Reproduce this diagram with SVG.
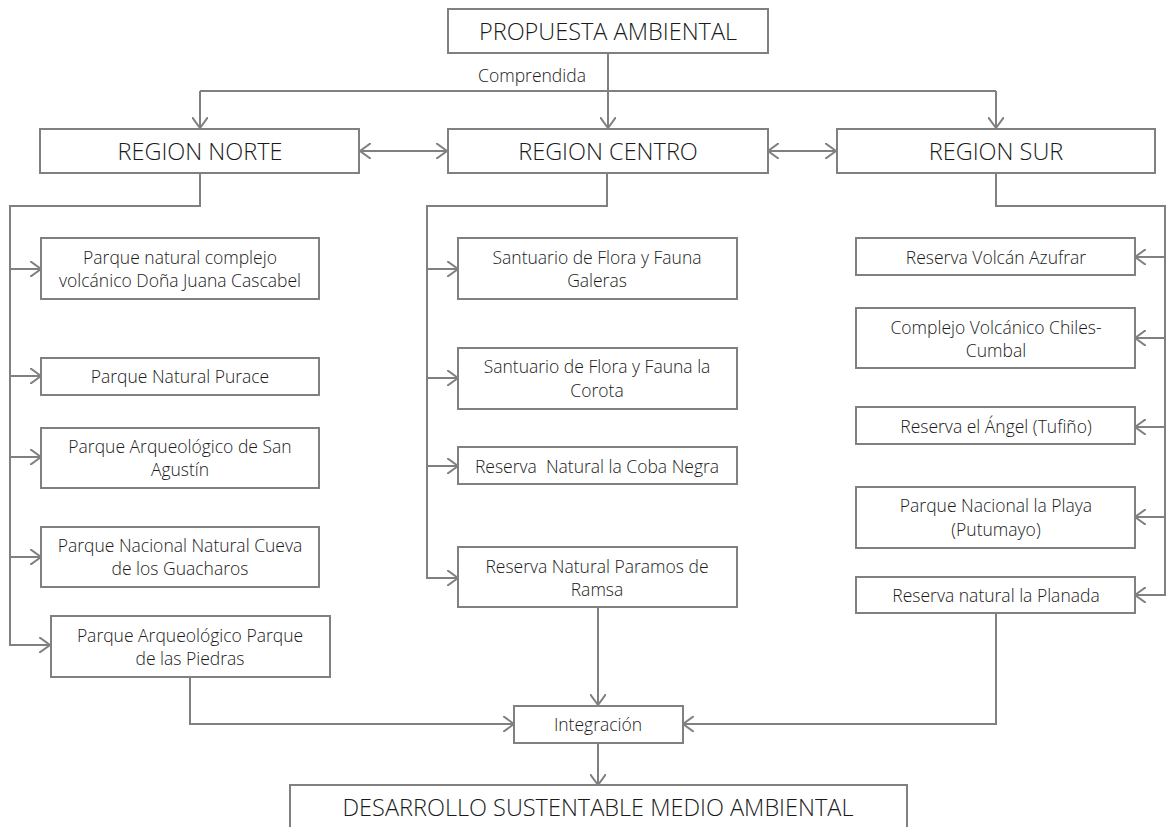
<svg xmlns="http://www.w3.org/2000/svg" width="1167" height="827" viewBox="0 0 1167 827">
<style>
.box{fill:#fff;stroke:#808080;stroke-width:2}
.c{fill:none;stroke:#808080;stroke-width:2}
text{font-family:"Open Sans",Lato,"Liberation Sans",sans-serif;font-weight:300;fill:#1a1a1a;text-anchor:middle;dominant-baseline:central}
.s{font-size:17.5px}
.l{font-size:23.5px}
</style>
<defs>
<marker id="a" markerUnits="userSpaceOnUse" viewBox="0 0 12 16" refX="11" refY="8" markerWidth="12" markerHeight="16" orient="auto-start-reverse">
<path d="M0,0 L11,8 L0,16" fill="none" stroke="#808080" stroke-width="2"/>
</marker>
</defs>
<rect width="1167" height="827" fill="#fff"/>
<g id="connectors">
<path class="c" d="M608,53 V128" marker-end="url(#a)"/>
<path class="c" d="M200,91 H996"/>
<path class="c" d="M200,91 V128" marker-end="url(#a)"/>
<path class="c" d="M996,91 V128" marker-end="url(#a)"/>
<path class="c" d="M360,151 H447" marker-start="url(#a)" marker-end="url(#a)"/>
<path class="c" d="M768,151 H836" marker-start="url(#a)" marker-end="url(#a)"/>
<path class="c" d="M200,173 V206 H10 V645 H50" marker-end="url(#a)"/>
<path class="c" d="M10,269 H41" marker-end="url(#a)"/>
<path class="c" d="M10,376 H41" marker-end="url(#a)"/>
<path class="c" d="M10,457 H41" marker-end="url(#a)"/>
<path class="c" d="M10,557 H41" marker-end="url(#a)"/>
<path class="c" d="M607,173 V206 H427 V578 H458" marker-end="url(#a)"/>
<path class="c" d="M427,269 H458" marker-end="url(#a)"/>
<path class="c" d="M427,378 H458" marker-end="url(#a)"/>
<path class="c" d="M427,466 H458" marker-end="url(#a)"/>
<path class="c" d="M996,173 V206 H1165 V595 H1135" marker-end="url(#a)"/>
<path class="c" d="M1165,257 H1135" marker-end="url(#a)"/>
<path class="c" d="M1165,338 H1135" marker-end="url(#a)"/>
<path class="c" d="M1165,427 H1135" marker-end="url(#a)"/>
<path class="c" d="M1165,517 H1135" marker-end="url(#a)"/>
<path class="c" d="M190,677 V724 H514" marker-end="url(#a)"/>
<path class="c" d="M598,607 V705" marker-end="url(#a)"/>
<path class="c" d="M996,613 V724 H683" marker-end="url(#a)"/>
<path class="c" d="M598,743 V785" marker-end="url(#a)"/>
</g>
<g id="propuesta"><rect class="box" x="448" y="9" width="320" height="44"/><text class="l" x="608" y="31">PROPUESTA AMBIENTAL</text></g>
<g id="label-comprendida"><text class="s" x="532" y="75">Comprendida</text></g>
<g id="region-norte"><rect class="box" x="40" y="129" width="319" height="44"/><text class="l" x="200" y="151">REGION NORTE</text></g>
<g id="region-centro"><rect class="box" x="448" y="129" width="320" height="44"/><text class="l" x="608" y="151">REGION CENTRO</text></g>
<g id="region-sur"><rect class="box" x="837" y="129" width="318" height="44"/><text class="l" x="996" y="151">REGION SUR</text></g>
<g id="n1"><rect class="box" x="41" y="238" width="278" height="61"/><text class="s" x="180" y="257">Parque natural complejo</text><text class="s" x="180" y="280">volcánico Doña Juana Cascabel</text></g>
<g id="n2"><rect class="box" x="41" y="358" width="278" height="37"/><text class="s" x="180" y="376">Parque Natural Purace</text></g>
<g id="n3"><rect class="box" x="41" y="428" width="278" height="60"/><text class="s" x="180" y="446">Parque Arqueológico de San</text><text class="s" x="180" y="469">Agustín</text></g>
<g id="n4"><rect class="box" x="41" y="527" width="278" height="60"/><text class="s" x="180" y="545">Parque Nacional Natural Cueva</text><text class="s" x="180" y="568">de los Guacharos</text></g>
<g id="n5"><rect class="box" x="51" y="616" width="279" height="61"/><text class="s" x="190" y="635">Parque Arqueológico Parque</text><text class="s" x="190" y="658">de las Piedras</text></g>
<g id="c1"><rect class="box" x="458" y="238" width="279" height="61"/><text class="s" x="597" y="257">Santuario de Flora y Fauna</text><text class="s" x="597" y="280">Galeras</text></g>
<g id="c2"><rect class="box" x="458" y="348" width="279" height="61"/><text class="s" x="597" y="366">Santuario de Flora y Fauna la</text><text class="s" x="597" y="390">Corota</text></g>
<g id="c3"><rect class="box" x="458" y="447" width="279" height="37"/><text class="s" x="597" y="466" xml:space="preserve">Reserva  Natural la Coba Negra</text></g>
<g id="c4"><rect class="box" x="458" y="547" width="279" height="60"/><text class="s" x="597" y="566">Reserva Natural Paramos de</text><text class="s" x="597" y="589">Ramsa</text></g>
<g id="s1"><rect class="box" x="856" y="238" width="279" height="37"/><text class="s" x="996" y="257">Reserva Volcán Azufrar</text></g>
<g id="s2"><rect class="box" x="856" y="308" width="279" height="60"/><text class="s" x="996" y="327">Complejo Volcánico Chiles-</text><text class="s" x="996" y="350">Cumbal</text></g>
<g id="s3"><rect class="box" x="856" y="407" width="279" height="37"/><text class="s" x="996" y="426">Reserva el Ángel (Tufiño)</text></g>
<g id="s4"><rect class="box" x="856" y="487" width="279" height="61"/><text class="s" x="996" y="505">Parque Nacional la Playa</text><text class="s" x="996" y="529">(Putumayo)</text></g>
<g id="s5"><rect class="box" x="856" y="577" width="279" height="36"/><text class="s" x="996" y="595">Reserva natural la Planada</text></g>
<g id="integracion"><rect class="box" x="514" y="706" width="169" height="37"/><text class="s" x="598" y="724">Integración</text></g>
<g id="desarrollo"><rect class="box" x="290" y="785" width="617" height="70"/><text class="l" x="598" y="807">DESARROLLO SUSTENTABLE MEDIO AMBIENTAL</text></g>
</svg>
